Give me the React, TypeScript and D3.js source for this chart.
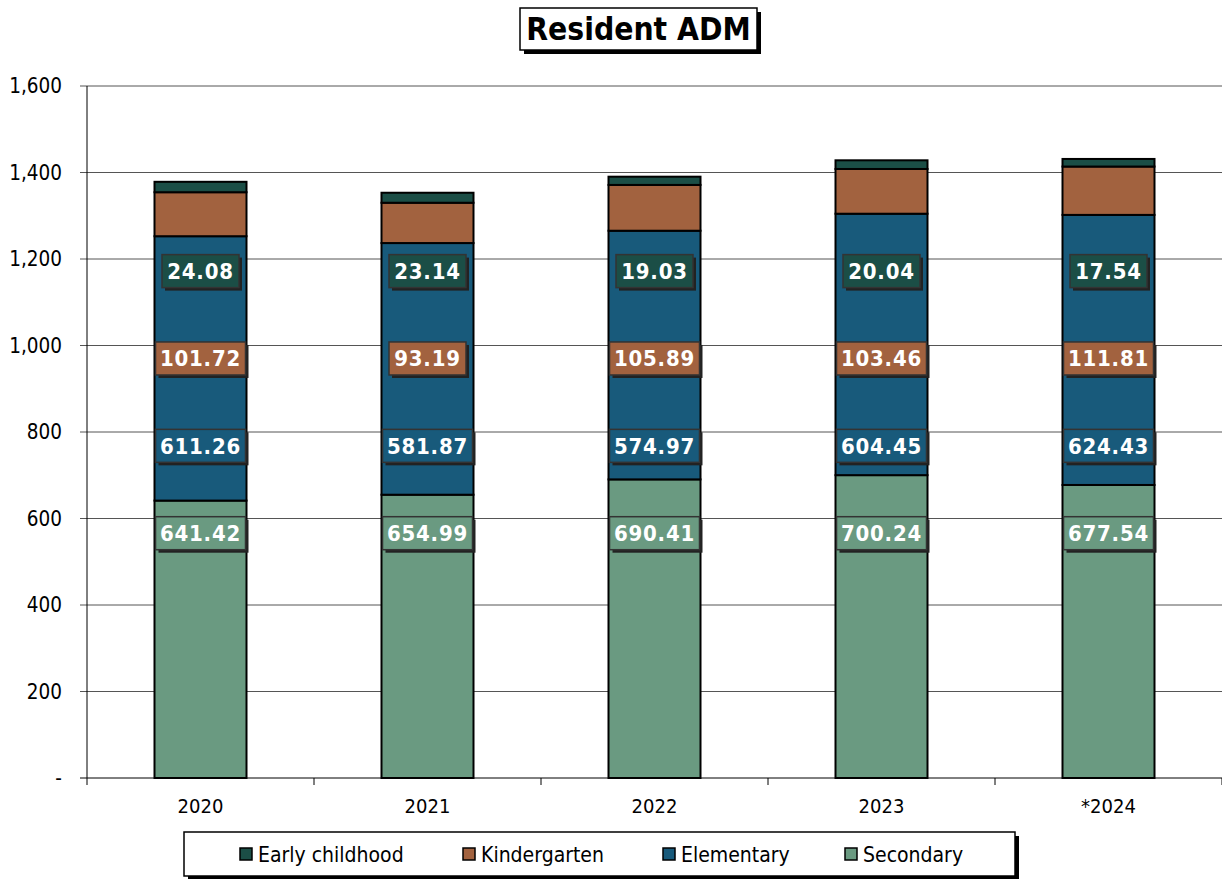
import React from "react";
import * as d3 from "d3";

const years = ["2020", "2021", "2022", "2023", "*2024"];
const seriesNames = ["Secondary", "Elementary", "Kindergarten", "Early childhood"];
const secondary = [641.42, 654.99, 690.41, 700.24, 677.54];
const elementary = [611.26, 581.87, 574.97, 604.45, 624.43];
const kindergarten = [101.72, 93.19, 105.89, 103.46, 111.81];
const earlyChildhood = [24.08, 23.14, 19.03, 20.04, 17.54];
const yTicks = [0, 200, 400, 600, 800, 1000, 1200, 1400, 1600];
const legendOrder = ["Early childhood", "Kindergarten", "Elementary", "Secondary"];

const colors: Record<string, string> = {
  Secondary: "#6A9A81",
  Elementary: "#185A7B",
  Kindergarten: "#A2623F",
  "Early childhood": "#1B4E46",
};

const W = 1222;
const H = 879;
const plot = { left: 87, right: 1222, top: 86, bottom: 778 };
const FONT = "'DejaVu Sans Condensed', 'DejaVu Sans', sans-serif";

export default function App() {
  const seriesVals = [secondary, elementary, kindergarten, earlyChildhood];
  const rows = years.map((y, i) => {
    const r: any = { year: y };
    seriesNames.forEach((s, k) => (r[s] = seriesVals[k][i]));
    return r;
  });
  const stack = d3.stack<any>().keys(seriesNames)(rows);

  const x = d3.scaleBand().domain(years).range([plot.left, plot.right]).paddingInner(0).paddingOuter(0);
  const y = d3.scaleLinear().domain([0, 1600]).range([plot.bottom, plot.top]);
  const bw = 92;
  const fmt = d3.format(",");

  // label anchor values per series (label placement level in the chart)
  const labelLevel = (k: number) => 566 + k * 202;

  return (
    <svg width={W} height={H} style={{ display: "block", position: "absolute", left: 0, top: 0 }}>
      <rect x={0} y={0} width={W} height={H} fill="#fff" />
      {/* gridlines */}
      {yTicks.map((t) => (
        <line key={t} x1={plot.left - 7} x2={plot.right} y1={y(t)} y2={y(t)} stroke={t === 0 ? "#000" : "#555"} strokeWidth={1} />
      ))}
      {/* y axis */}
      <line x1={plot.left} x2={plot.left} y1={plot.top} y2={plot.bottom + 7} stroke="#000" />
      {yTicks.map((t) => (
        <text key={"t" + t} x={62} y={y(t)} dy="0.35em" textAnchor="end" fontFamily={FONT} fontSize={20.5} fill="#000">
          {t === 0 ? "-" : fmt(t)}
        </text>
      ))}
      {/* x ticks */}
      {years.map((yr) => (
        <line key={"xt" + yr} x1={(x(yr) as number) + x.bandwidth()} x2={(x(yr) as number) + x.bandwidth()} y1={plot.bottom} y2={plot.bottom + 7} stroke="#000" />
      ))}
      {years.map((yr) => (
        <text key={"xl" + yr} x={(x(yr) as number) + x.bandwidth() / 2} y={813} textAnchor="middle" fontFamily={FONT} fontSize={20} fill="#000">
          {yr}
        </text>
      ))}
      {/* bars */}
      {stack.map((s) =>
        s.map((d, i) => {
          const cx = (x(years[i]) as number) + x.bandwidth() / 2;
          return (
            <rect key={s.key + i} x={cx - bw / 2} y={y(d[1])} width={bw} height={y(d[0]) - y(d[1])} fill={colors[s.key]} stroke="#000" strokeWidth={2} />
          );
        })
      )}
      {/* labels */}
      {stack.map((s, k) =>
        s.map((d, i) => {
          const cx = (x(years[i]) as number) + x.bandwidth() / 2;
          const val = seriesVals[k][i];
          const txt = val.toFixed(2);
          const w = txt.length * 13 + 12;
          const h = 33;
          const cy = y(labelLevel(k));
          return (
            <g key={"lb" + s.key + i}>
              <rect x={cx - w / 2 + 3} y={cy - h / 2 + 3} width={w} height={h} fill="#222" />
              <rect x={cx - w / 2} y={cy - h / 2} width={w} height={h} fill={colors[s.key]} stroke="#333" strokeWidth={1.5} />
              <text x={cx} y={cy} dy="0.36em" textAnchor="middle" fontFamily={FONT} fontWeight="bold" fontSize={22} fill="#fff" letterSpacing={0.8}>
                {txt}
              </text>
            </g>
          );
        })
      )}
      {/* title */}
      <rect x={524} y={12} width={237} height={42} fill="#000" />
      <rect x={520} y={8} width={237} height={42} fill="#fff" stroke="#000" strokeWidth={1.5} />
      <text x={638.5} y={29} dy="0.36em" textAnchor="middle" fontFamily={FONT} fontWeight="bold" fontSize={31.5} fill="#000">
        Resident ADM
      </text>
      {/* legend */}
      <rect x={188} y={836} width={831} height={44} fill="#000" />
      <rect x={184} y={832} width={831} height={44} fill="#fff" stroke="#000" strokeWidth={1.5} />
      {legendOrder.map((name, i) => {
        const xs = [240, 463, 663, 845];
        return (
          <g key={"lg" + name}>
            <rect x={xs[i]} y={848} width={12} height={12} fill={colors[name]} stroke="#000" strokeWidth={1.5} />
            <text x={xs[i] + 18} y={854} dy="0.36em" fontFamily={FONT} fontSize={21} fill="#000">
              {name}
            </text>
          </g>
        );
      })}
    </svg>
  );
}
